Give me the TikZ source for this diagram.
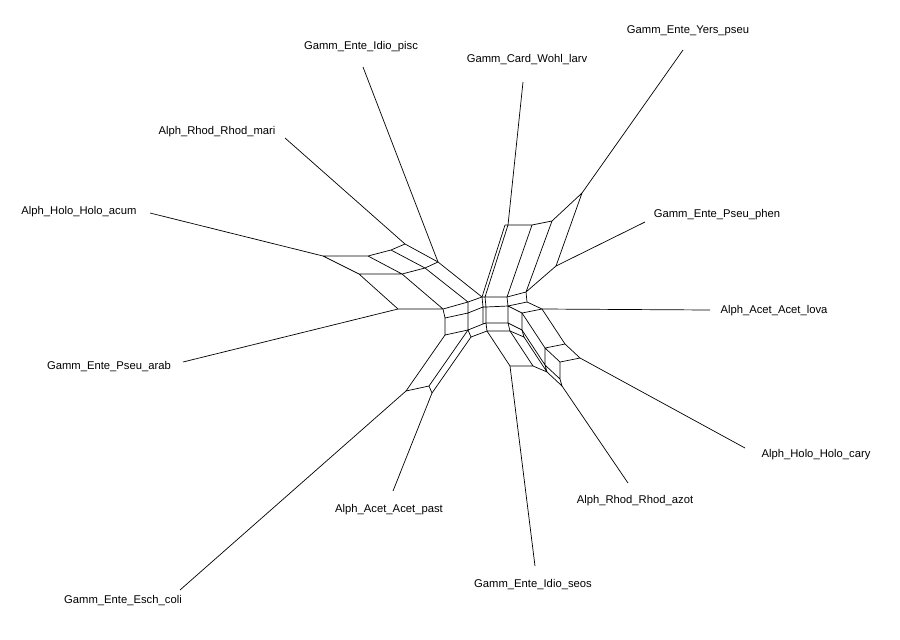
\documentclass[tikz,border=0pt]{standalone}
\usepackage{fontspec}
\setmainfont{Liberation Sans}
\begin{document}
\begin{tikzpicture}[x=0.03cm,y=-0.03cm,
  net/.style={line width=0.6pt,black,line join=round},
  lab/.style={font=\fontsize{9.6}{11}\selectfont,inner sep=0pt,anchor=center}]
\useasboundingbox (0,0) rectangle (900,639);
% ---- vertices
\coordinate (a1) at (323,256); \coordinate (a2) at (368,256);
\coordinate (a3) at (391,250); \coordinate (a4) at (405,244);
\coordinate (b1) at (359,274); \coordinate (b2) at (402,274);
\coordinate (b3) at (425,268); \coordinate (b4) at (438,262);
\coordinate (c1) at (398,309); \coordinate (c2) at (443,309);
\coordinate (c3) at (468,302); \coordinate (g1) at (482,297);
\coordinate (d2) at (445,318); \coordinate (d3) at (445,335);
\coordinate (e2) at (468,313); \coordinate (e3) at (468,330);
\coordinate (g2) at (483,307); \coordinate (g3) at (483,324);
\coordinate (h1) at (485,297); \coordinate (h2) at (486,307);
\coordinate (h3) at (486,323); \coordinate (h4) at (487,331);
\coordinate (i1) at (471,337);
\coordinate (j1) at (406,391); \coordinate (j2) at (429,386); \coordinate (j3) at (432,393);
\coordinate (k0) at (505,225); \coordinate (k1) at (508,225);
\coordinate (k2) at (532,225); \coordinate (k3) at (552,221); \coordinate (k4) at (582,193);
\coordinate (l2) at (507,297); \coordinate (l3) at (526,292); \coordinate (l4) at (556,266);
\coordinate (m2) at (508,306); \coordinate (m3) at (527,302);
\coordinate (n2) at (522,313); \coordinate (n3) at (542,309);
\coordinate (o2) at (508,323); \coordinate (o3) at (522,330);
\coordinate (p2) at (510,331); \coordinate (p3) at (524,337);
\coordinate (q2) at (545,348); \coordinate (q3) at (565,344);
\coordinate (q4) at (545,365); \coordinate (q5) at (547,372);
\coordinate (q6) at (533,366); \coordinate (q7) at (510,366);
\coordinate (r2) at (560,362); \coordinate (r3) at (580,358);
\coordinate (r4) at (560,379); \coordinate (r5) at (562,386);
% ---- leaf ends
\coordinate (tHa) at (150,213); \coordinate (tRm) at (285,138);
\coordinate (tIp) at (363,67);  \coordinate (tPa) at (183,362);
\coordinate (tEc) at (180,590); \coordinate (tAp) at (393,491);
\coordinate (tIs) at (535,566); \coordinate (tRa) at (628,483);
\coordinate (tHc) at (745,448); \coordinate (tAl) at (710,310);
\coordinate (tPp) at (645,222); \coordinate (tY) at (683,50);
\coordinate (tW) at (523,82);
% ---- labels
\node[lab] (Ip) at (361,47) {Gamm\_Ente\_Idio\_pisc};
\node[lab] (W) at (527,60) {Gamm\_Card\_Wohl\_larv};
\node[lab] (Y) at (688,31) {Gamm\_Ente\_Yers\_pseu};
\node[lab] (Rm) at (217,132) {Alph\_Rhod\_Rhod\_mari};
\node[lab] (Ha) at (79,212) {Alph\_Holo\_Holo\_acum};
\node[lab] (Pp) at (717,215) {Gamm\_Ente\_Pseu\_phen};
\node[lab] (Al) at (774,311) {Alph\_Acet\_Acet\_lova};
\node[lab] (Pa) at (109,367) {Gamm\_Ente\_Pseu\_arab};
\node[lab] (Hc) at (816,455) {Alph\_Holo\_Holo\_cary};
\node[lab] (Ra) at (635,501) {Alph\_Rhod\_Rhod\_azot};
\node[lab] (Ap) at (389,510) {Alph\_Acet\_Acet\_past};
\node[lab] (Is) at (533,585) {Gamm\_Ente\_Idio\_seos};
\node[lab] (Ec) at (123,601) {Gamm\_Ente\_Esch\_coli};
% ---- leaf edges
\draw[net] (a1)--(tHa) (a4)--(tRm) (b4)--(tIp) (c1)--(tPa)
  (j1)--(tEc) (j3)--(tAp) (q7)--(tIs) (r5)--(tRa) (r3)--(tHc)
  (n3)--(tAl) (l4)--(tPp) (k4)--(tY) (k1)--(tW);
% ---- left group
\draw[net] (a1)--(a2)--(a3)--(a4) (b1)--(b2)--(b3)--(b4) (c1)--(c2)--(c3)--(g1)
  (a1)--(b1)--(c1) (a2)--(b2)--(c2) (a3)--(b3)--(c3) (a4)--(b4)--(g1);
% ---- centre
\draw[net] (c2)--(d2)--(d3) (c3)--(e2)--(e3) (d2)--(e2) (d3)--(e3)
  (g1)--(g2)--(g3) (e2)--(g2) (e3)--(g3)
  (h1)--(h2)--(h3)--(h4) (g1)--(h1) (g2)--(h2) (g3)--(h3)
  (e3)--(i1)--(h4);
% ---- lower left
\draw[net] (d3)--(j1) (e3)--(j2) (i1)--(j3) (j1)--(j2)--(j3);
% ---- top right
\draw[net] (k0)--(k1)--(k2)--(k3)--(k4) (k0)--(g1) (k1)--(h1) (k2)--(l2)
  (k3)--(l3) (k4)--(l4) (h1)--(l2)--(l3)--(l4);
% ---- right
\draw[net] (h2)--(m2)--(m3) (l2)--(m2) (l3)--(m3) (m2)--(n2)--(n3) (m3)--(n3)
  (h3)--(o2)--(o3) (m2)--(o2) (n2)--(o3)
  (h4)--(p2)--(p3) (o2)--(p2) (o3)--(p3);
% ---- lower right
\draw[net] (n2)--(q2)--(q3) (n3)--(q3) (o3)--(q4) (p3)--(q5) (q4)--(q5)
  (q2)--(q4) (p2)--(q6)--(q5) (h4)--(q7)--(q6)
  (q2)--(r2)--(r3) (q3)--(r3) (q4)--(r4) (q5)--(r5) (r4)--(r5) (r2)--(r4);
\end{tikzpicture}
\end{document}
